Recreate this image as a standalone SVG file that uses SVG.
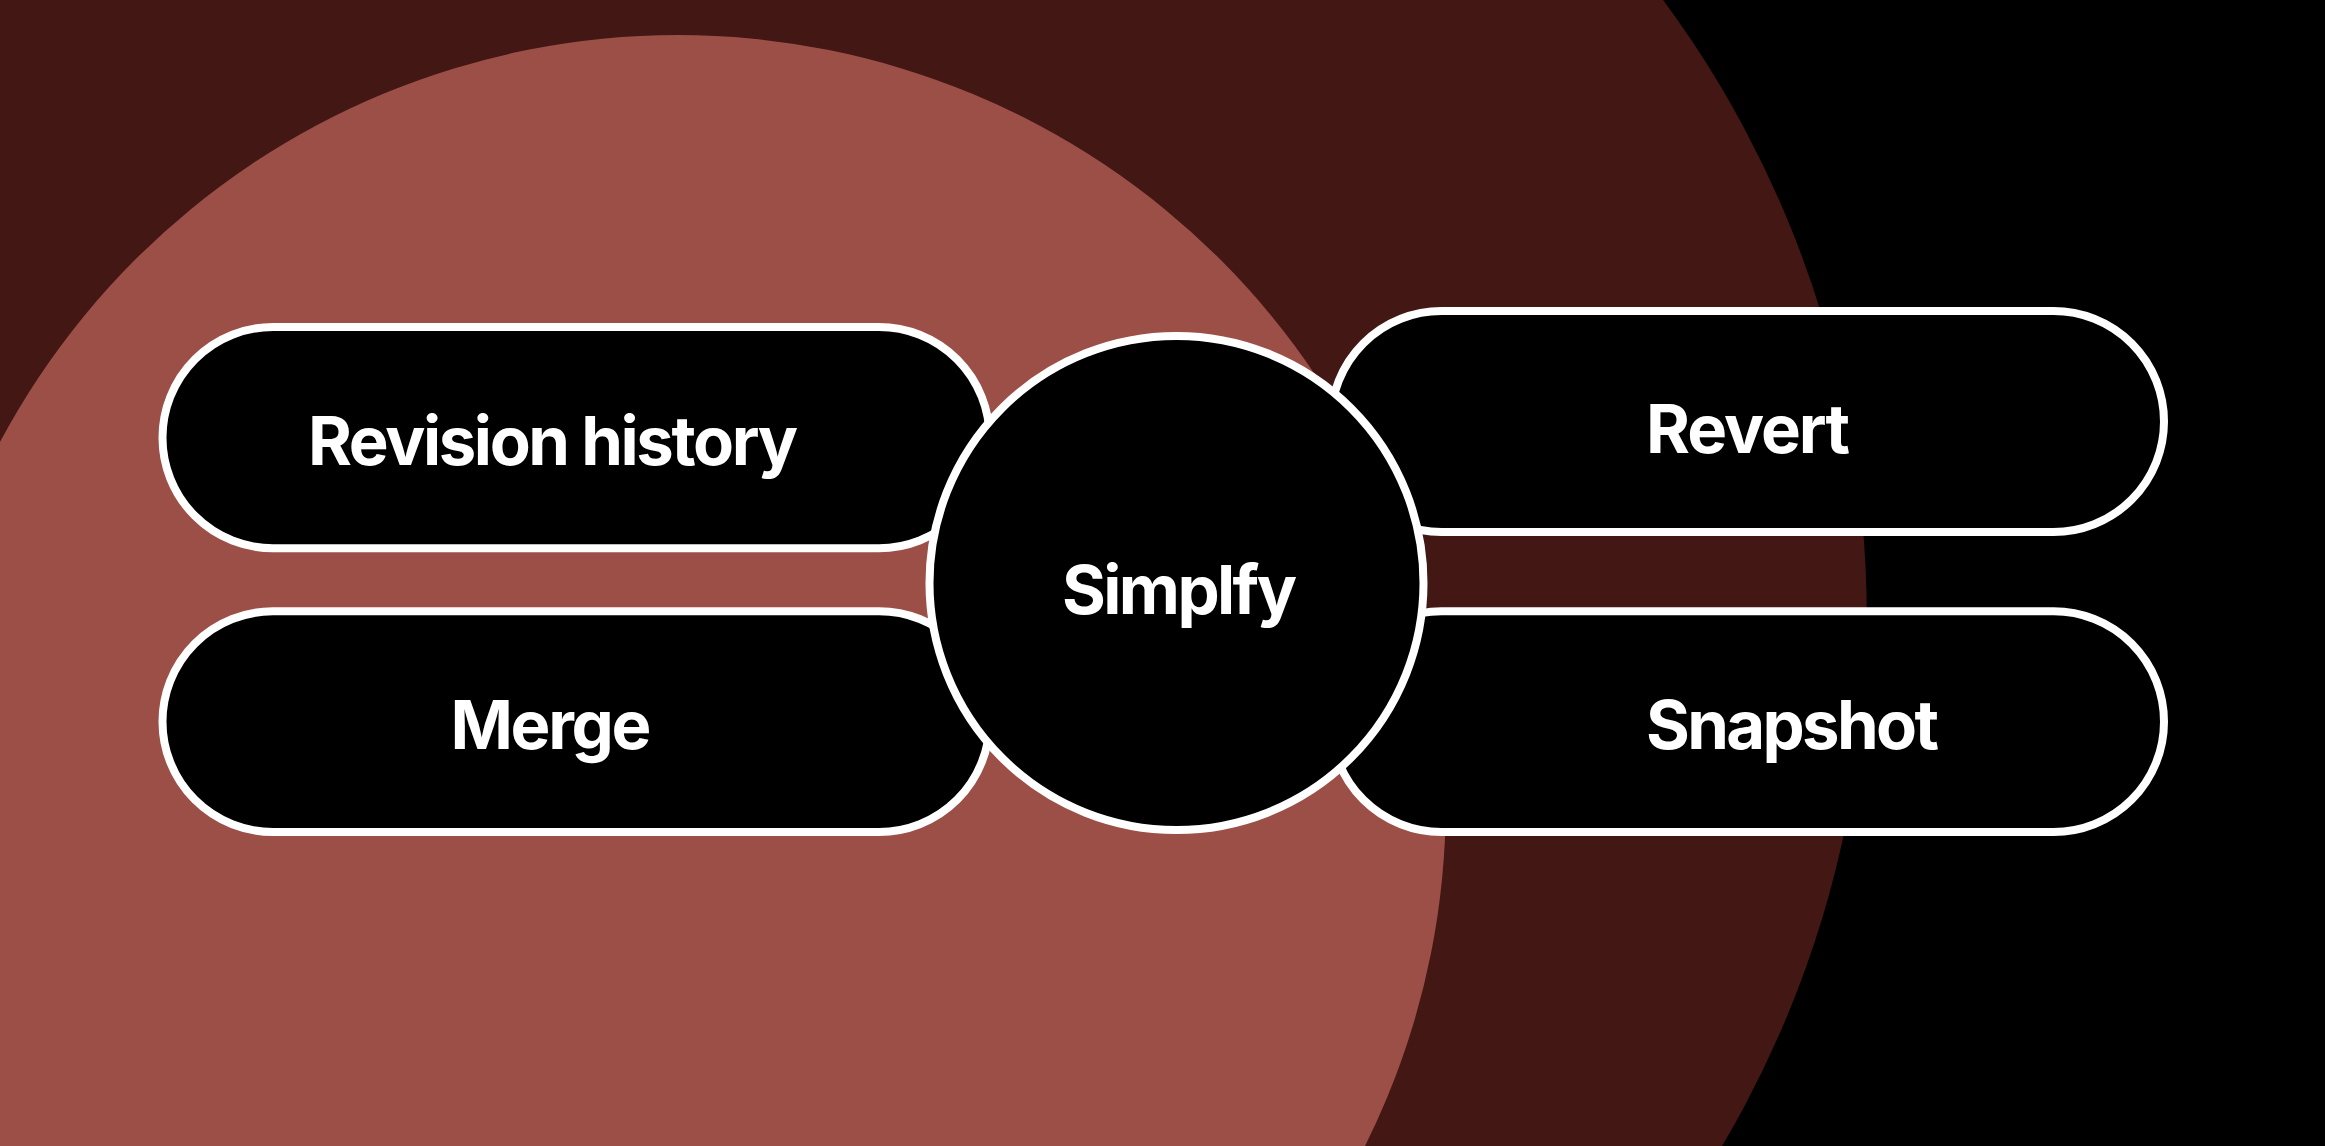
<svg xmlns="http://www.w3.org/2000/svg" width="2325" height="1146" viewBox="0 0 2325 1146">
  <style>
    .pill { fill: #000000; stroke: #ffffff; stroke-width: 8; }
    .hub { fill: #000000; stroke: #ffffff; stroke-width: 8; }
    .lbl { fill: #ffffff; font-family: Inter, "Liberation Sans", sans-serif; font-weight: 700; font-size: 67px; }
  </style>
  <g id="background">
    <rect x="0" y="0" width="2325" height="1146" fill="#000000"/>
    <circle cx="829.5" cy="617.4" r="1037.3" fill="#431714"/>
    <circle cx="677.8" cy="803.1" r="768" fill="#9C4F47"/>
  </g>
  <g id="connectors"></g>
  <g id="node-revision-history">
    <rect class="pill" x="162.5" y="327" width="827" height="221.3" rx="110.6" ry="110.6"/>
    <text class="lbl" x="553" y="465" text-anchor="middle" textLength="490" lengthAdjust="spacing">Revision history</text>
  </g>
  <g id="node-merge">
    <rect class="pill" x="162.5" y="611.3" width="827" height="220.7" rx="110.4" ry="110.4"/>
    <text class="lbl" x="551" y="749" text-anchor="middle" textLength="201" lengthAdjust="spacing">Merge</text>
  </g>
  <g id="node-revert">
    <rect class="pill" x="1331" y="311" width="833" height="221" rx="110.5" ry="110.5"/>
    <text class="lbl" x="1646" y="453" textLength="204" lengthAdjust="spacing">Revert</text>
  </g>
  <g id="node-snapshot">
    <rect class="pill" x="1331" y="611.3" width="833" height="220.7" rx="110.4" ry="110.4"/>
    <text class="lbl" x="1646" y="749" textLength="293" lengthAdjust="spacing">Snapshot</text>
  </g>
  <g id="node-simplfy">
    <circle class="hub" cx="1176.5" cy="583" r="247"/>
    <text class="lbl" x="1179.5" y="614" text-anchor="middle" textLength="235" lengthAdjust="spacing">Simplfy</text>
  </g>
</svg>
